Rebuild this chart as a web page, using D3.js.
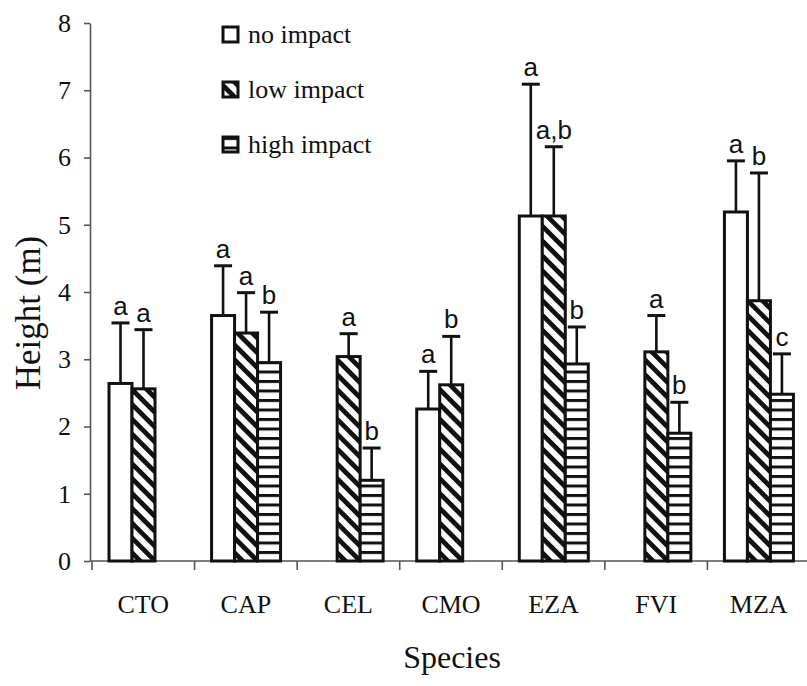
<!DOCTYPE html>
<html lang="en-US">
<head>
    <meta charset="utf-8">
    <script src="https://d3js.org/d3.v7.min.js"></script>
</head>
<body style="margin:0;background:#fff">
<style>
    svg text { fill: #111; }
    .serif { font-family: "Liberation Serif", "Times New Roman", serif; }
    .sans { font-family: "Liberation Sans", Arial, sans-serif; }
</style>

<svg width="807" height="686"></svg>

<script>
// species on the x axis
var categories = ["CTO", "CAP", "CEL", "CMO", "EZA", "FVI", "MZA"];
var series = ["no impact", "low impact", "high impact"];

// mean heights (m), 0 = not present
var noImpact   = [2.64, 3.65, 0, 2.26, 5.13, 0, 5.19];
var lowImpact  = [2.56, 3.39, 3.04, 2.62, 5.13, 3.11, 3.87];
var highImpact = [0, 2.95, 1.20, 0, 2.93, 1.90, 2.48];

// upper error (SD)
var noImpactErr   = [0.90, 0.74, 0, 0.56, 1.96, 0, 0.76];
var lowImpactErr  = [0.88, 0.60, 0.34, 0.72, 1.03, 0.54, 1.90];
var highImpactErr = [0, 0.75, 0.48, 0, 0.55, 0.46, 0.60];

// significance letters
var noImpactLetters   = ["a", "a", "", "a", "a", "", "a"];
var lowImpactLetters  = ["a", "a", "a", "b", "a,b", "a", "b"];
var highImpactLetters = ["", "b", "b", "", "b", "b", "c"];

var yTicks = [0, 1, 2, 3, 4, 5, 6, 7, 8];

var means = [noImpact, lowImpact, highImpact];
var errs = [noImpactErr, lowImpactErr, highImpactErr];
var letters = [noImpactLetters, lowImpactLetters, highImpactLetters];

var svg = d3.select("svg");

var y = d3.scaleLinear().domain([0, 8]).range([561, 23]);
var x0 = d3.scaleBand().domain(categories).range([92, 810]);
var x1 = d3.scaleBand().domain(series).range([17, 86]);

// fill patterns
var defs = svg.append("defs");
var diag = defs.append("pattern")
    .attr("id", "diag").attr("patternUnits", "userSpaceOnUse")
    .attr("width", 10.5).attr("height", 10.5)
    .attr("patternTransform", "rotate(45)");
diag.append("rect").attr("width", 10.5).attr("height", 10.5).attr("fill", "#fff");
diag.append("rect").attr("width", 10.5).attr("height", 4.8).attr("fill", "#111");

var horiz = defs.append("pattern")
    .attr("id", "horiz").attr("patternUnits", "userSpaceOnUse")
    .attr("width", 10).attr("height", 9.5);
horiz.append("rect").attr("width", 10).attr("height", 9.5).attr("fill", "#fff");
horiz.append("rect").attr("width", 10).attr("height", 3).attr("fill", "#111");

var fills = ["#fff", "url(#diag)", "url(#horiz)"];

// axes
svg.append("line")
    .attr("x1", 90).attr("x2", 807)
    .attr("y1", y(0)).attr("y2", y(0))
    .attr("stroke", "#555").attr("stroke-width", 1.6);

svg.selectAll(".xtick")
    .data(categories)
    .enter().append("line")
    .attr("class", "xtick")
    .attr("x1", d => x0(d)).attr("x2", d => x0(d))
    .attr("y1", y(0)).attr("y2", y(0) + 9)
    .attr("stroke", "#555").attr("stroke-width", 1.6);

var yAxis = svg.append("g")
    .attr("transform", "translate(90,0)")
    .call(d3.axisLeft(y).tickValues(yTicks).tickSize(6).tickSizeOuter(0).tickPadding(13).tickFormat(d3.format("d")));
yAxis.select(".domain").attr("stroke", "#555").attr("stroke-width", 1.6);
yAxis.selectAll(".tick line").attr("stroke", "#555").attr("stroke-width", 1.6);
yAxis.selectAll(".tick text")
    .attr("class", "serif")
    .attr("font-size", 26)
    .attr("fill", "#111");

// bars
var cells = [];
categories.forEach(function(c, i) {
    series.forEach(function(s, j) {
        cells.push({cat: c, s: s, j: j, v: means[j][i], e: errs[j][i], l: letters[j][i]});
    });
});

var groups = svg.append("g").selectAll(".cell")
    .data(cells)
    .enter().append("g")
    .attr("class", "cell")
    .attr("transform", d => `translate(${x0(d.cat) + x1(d.s)},0)`);

var bw = x1.bandwidth();

groups.filter(d => d.e > 0).append("line")
    .attr("x1", bw / 2).attr("x2", bw / 2)
    .attr("y1", d => y(d.v)).attr("y2", d => y(d.v + d.e))
    .attr("stroke", "#111").attr("stroke-width", 2.6);

groups.filter(d => d.e > 0).append("line")
    .attr("x1", bw / 2 - 9).attr("x2", bw / 2 + 9)
    .attr("y1", d => y(d.v + d.e)).attr("y2", d => y(d.v + d.e))
    .attr("stroke", "#111").attr("stroke-width", 3);

groups.append("rect")
    .attr("x", 0)
    .attr("y", d => y(d.v))
    .attr("width", bw)
    .attr("height", d => y(0) - y(d.v))
    .attr("fill", d => fills[d.j])
    .attr("stroke", "#111")
    .attr("stroke-width", 3);

groups.filter(d => d.l).append("text")
    .attr("class", "sans")
    .attr("x", bw / 2)
    .attr("y", d => y(d.v + d.e) - 8)
    .attr("text-anchor", "middle")
    .attr("font-size", 26)
    .text(d => d.l);

// category labels
svg.selectAll(".xlab")
    .data(categories)
    .enter().append("text")
    .attr("class", "serif")
    .attr("x", d => x0(d) + x0.bandwidth() / 2)
    .attr("y", 613)
    .attr("text-anchor", "middle")
    .attr("font-size", 26)
    .text(d => d);

svg.append("text")
    .attr("class", "serif")
    .attr("x", 452).attr("y", 668)
    .attr("text-anchor", "middle")
    .attr("font-size", 32)
    .text("Species");

svg.append("text")
    .attr("class", "serif")
    .attr("transform", "translate(40,313) rotate(-90)")
    .attr("text-anchor", "middle")
    .attr("font-size", 35)
    .text("Height (m)");

// legend
var legend = svg.append("g").selectAll(".leg")
    .data(series)
    .enter().append("g")
    .attr("class", "leg")
    .attr("transform", (d, i) => `translate(223,${27 + i * 55})`);

legend.append("rect")
    .attr("width", 15).attr("height", 15)
    .attr("fill", (d, i) => fills[i])
    .attr("stroke", "#111").attr("stroke-width", 3);

legend.append("text")
    .attr("class", "serif")
    .attr("x", 25).attr("y", 16)
    .attr("font-size", 26)
    .text(d => d);
</script>
</body>
</html>
